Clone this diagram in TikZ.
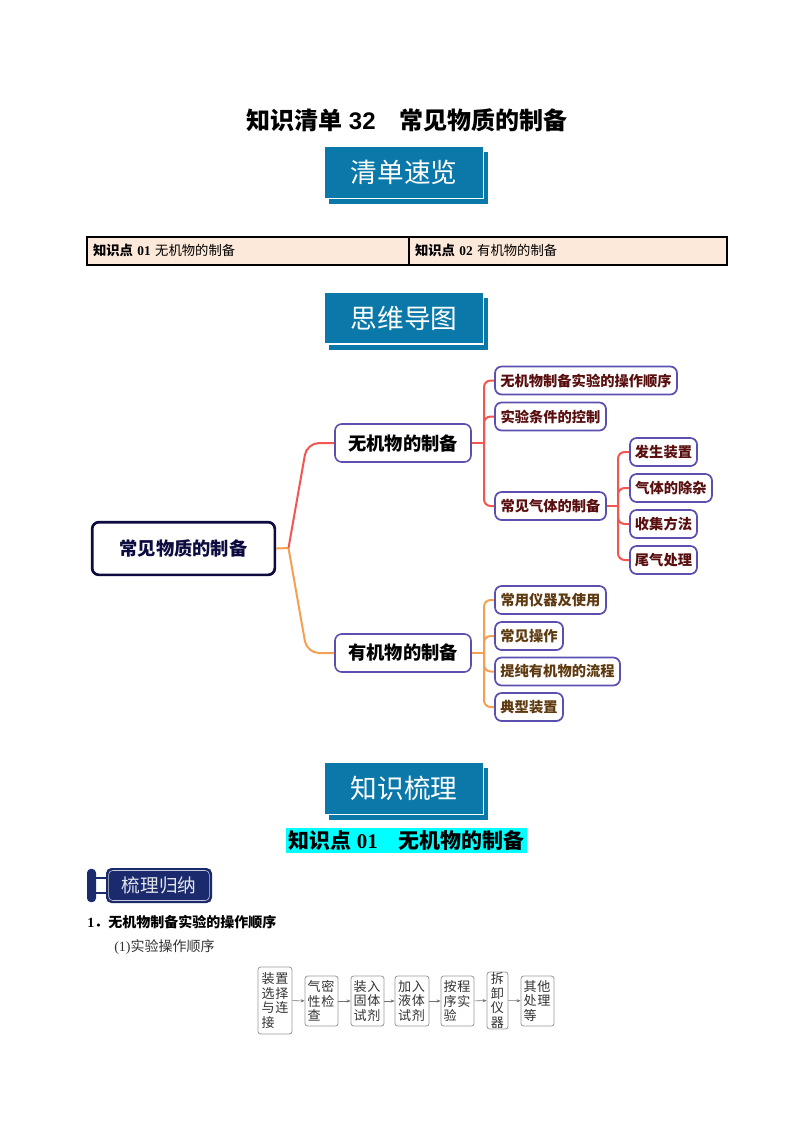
\documentclass[tikz,border=0pt]{standalone}
\usepackage{fontspec}
\setmainfont{Noto Sans CJK SC}
\newfontfamily\cjk{Noto Sans CJK SC}
\newfontfamily\lat{Liberation Serif}
\newfontfamily\lsans{Liberation Sans}
\usetikzlibrary{shadows,arrows.meta}
\definecolor{bann}{HTML}{0A78A8}
\definecolor{frameb}{HTML}{5B50B0}
\definecolor{rootb}{HTML}{0C0C40}
\definecolor{redl}{HTML}{F5554F}
\definecolor{orgl}{HTML}{F4A050}
\definecolor{redt}{HTML}{5A0F0F}
\definecolor{brnt}{HTML}{5E3A10}
\definecolor{peach}{HTML}{FDE9D9}
\definecolor{navy}{HTML}{1A2A6C}
\definecolor{graybox}{HTML}{9A9A9A}
\definecolor{hlcyan}{HTML}{00FFFF}
\tikzset{
 x=0.75pt,y=-0.75pt,
 banner/.style={fill=bann,draw=white,line width=0.8pt,text=white,minimum width=119pt,minimum height=39pt,inner sep=0pt,
   font=\fontsize{20}{24}\selectfont,
   drop shadow={shadow xshift=3.6pt,shadow yshift=-4.2pt,opacity=1,fill=bann}},
 cell/.style={draw=black,line width=1.4pt,fill=peach,minimum height=21pt,inner xsep=4.5pt,inner ysep=0pt,align=left,font=\fontsize{10}{12}\selectfont},
 rootbox/.style={draw=rootb,line width=2pt,rounded corners=5pt,minimum width=137pt,minimum height=39.5pt,inner sep=0pt,font=\fontsize{13.7}{16}\selectfont\bfseries,text=rootb},
 midbox/.style={draw=frameb,line width=1.2pt,rounded corners=5pt,fill=white,minimum width=102pt,minimum height=28.5pt,inner sep=0pt,font=\fontsize{13.7}{16}\selectfont\bfseries},
 leaf/.style={draw=frameb,line width=1.3pt,rounded corners=5pt,fill=white,minimum height=21pt,inner sep=0pt,font=\fontsize{10.7}{13}\selectfont\bfseries},
 leafr/.style={leaf,text=redt},
 leafo/.style={leaf,text=brnt},
 redc/.style={draw=redl,line width=1.5pt,rounded corners=5pt},
 orgc/.style={draw=orgl,line width=1.5pt,rounded corners=5pt},
 flowbox/.style={draw=graybox,line width=0.6pt,rounded corners=2pt,inner sep=0pt,align=left,font=\fontsize{9.8}{11}\selectfont\addfontfeature{LetterSpace=6},text=black!80},
 flowar/.style={draw=black!55,line width=0.4pt,-{Stealth[length=3pt,width=2.4pt]}},
}
\begin{document}
\begin{tikzpicture}
\useasboundingbox (0,0) rectangle (800,1132);
\fill[white] (0,0) rectangle (800,1132);
% title
\node[font=\fontsize{18}{22}\selectfont\bfseries] (title) at (407,120) {知识清单{\lsans\bfseries\ 32}　常见物质的制备};
% banners
\node[banner] (bn1) at (404,172.5) {清单速览};
\node[banner] (bn2) at (404,318) {思维导图};
\node[banner] (bn3) at (404,788.5) {知识梳理};
% table
\node[cell,minimum width=241.5pt,text width=232.5pt] (c1) at (248,251) {\raisebox{1.6pt}{\textbf{知识点}{\lat\bfseries\ 01} 无机物的制备}};
\node[cell,minimum width=238.5pt,text width=229.5pt] (c2) at (568,251) {\raisebox{1.6pt}{\textbf{知识点}{\lat\bfseries\ 02} 有机物的制备}};
% mind map nodes
\node[rootbox] (root) at (183.5,548.5) {常见物质的制备};
\node[midbox] (inorg) at (403,443) {无机物的制备};
\node[midbox] (org) at (403,653) {有机物的制备};
\node[leafr,minimum width=136.5pt] (a1) at (586,380.5) {无机物制备实验的操作顺序};
\node[leafr,minimum width=83.25pt] (a2) at (550.5,416.5) {实验条件的控制};
\node[leafr,minimum width=83.25pt] (a3) at (550.5,506) {常见气体的制备};
\node[leafr,minimum width=50.25pt] (g1) at (663.5,452) {发生装置};
\node[leafr,minimum width=61.5pt] (g2) at (671,488) {气体的除杂};
\node[leafr,minimum width=50.25pt] (g3) at (663.5,524) {收集方法};
\node[leafr,minimum width=50.25pt] (g4) at (663.5,560) {尾气处理};
\node[leafo,minimum width=83.25pt] (o1) at (550.5,600) {常用仪器及使用};
\node[leafo,minimum width=51pt] (o2) at (529,636) {常见操作};
\node[leafo,minimum width=93.75pt] (o3) at (557.5,671.5) {提纯有机物的流程};
\node[leafo,minimum width=51pt] (o4) at (529,707) {典型装置};
% junctions
\coordinate (j0) at (288.5,548);
\coordinate (k1) at (307,443);
\coordinate (k2) at (307,653);
\coordinate (j1) at (484,443);
\coordinate (j2) at (618,506);
\coordinate (j3) at (484,653);
% connectors
\begin{scope}[on background layer/.style={}]
\draw[orgc] (root.east) -- (j0);
\draw[redc,rounded corners=9pt] (j0) -- (k1) -- (inorg.west);
\draw[orgc,rounded corners=9pt] (j0) -- (k2) -- (org.west);
\draw[redc] (inorg.east) -- (j1);
\draw[redc] (j1) |- (a1.west);
\draw[redc] (j1) |- (a2.west);
\draw[redc] (j1) |- (a3.west);
\draw[redc] (a3.east) -- (j2);
\draw[redc] (j2) |- (g1.west);
\draw[redc] (j2) |- (g2.west);
\draw[redc] (j2) |- (g3.west);
\draw[redc] (j2) |- (g4.west);
\draw[orgc] (org.east) -- (j3);
\draw[orgc] (j3) |- (o1.west);
\draw[orgc] (j3) |- (o2.west);
\draw[orgc] (j3) |- (o3.west);
\draw[orgc] (j3) |- (o4.west);
\end{scope}
% heading
\node[fill=hlcyan,minimum width=180.75pt,minimum height=18.5pt,inner sep=0pt,font=\fontsize{15.7}{18}\selectfont\bfseries] (hd) at (406.5,840.5) {知识点{\lat\bfseries\ 01}　无机物的制备};
% badge
\node[fill=navy,rounded corners=3pt,minimum width=6.75pt,minimum height=25pt,inner sep=0pt] (hdl) at (91.5,885.5) {};
\node[fill=navy,rounded corners=4pt,minimum width=79.5pt,minimum height=26.25pt,inner sep=0pt] (tag) at (159,885.5) {};
\node[draw=white!75!navy,line width=0.4pt,rounded corners=3pt,minimum width=75.5pt,minimum height=22.5pt,inner sep=0pt,text=white!88!navy,font=\fontsize{14}{16}\selectfont] (tagt) at (159,885.5) {梳理归纳};
\draw[navy,line width=1.1pt] ([yshift=5.5pt]hdl.east) -- ([yshift=5.5pt]tag.west);
\draw[navy,line width=1.1pt] ([yshift=-5.5pt]hdl.east) -- ([yshift=-5.5pt]tag.west);
% text lines
\node[anchor=west,inner sep=0pt,font=\fontsize{10.5}{12}\selectfont\bfseries] (l1) at (87,922) {{\lat\bfseries 1}．无机物制备实验的操作顺序};
\node[anchor=west,inner sep=0pt,font=\fontsize{10.5}{12}\selectfont,text=black!80] (l2) at (114,947) {{\lat (1)}实验操作顺序};
% flow
\node[flowbox,minimum width=25.5pt,minimum height=50.25pt] (f1) at (275,1000.5) {装置\\选择\\与连\\接};
\node[flowbox,minimum width=24.75pt,minimum height=37.5pt,text width=21pt] (f2) at (321.5,1001) {气密\\性检\\查};
\node[flowbox,minimum width=24.75pt,minimum height=37.5pt,text width=21pt] (f3) at (367.5,1001) {装入\\固体\\试剂};
\node[flowbox,minimum width=25.5pt,minimum height=37.5pt,text width=21pt] (f4) at (412,1001) {加入\\液体\\试剂};
\node[flowbox,minimum width=24.75pt,minimum height=37.5pt,text width=21pt] (f5) at (457.5,1001) {按程\\序实\\验};
\node[flowbox,minimum width=15.75pt,minimum height=42.75pt] (f6) at (497.5,1000.5) {拆\\卸\\仪\\器};
\node[flowbox,minimum width=24.75pt,minimum height=37.5pt,text width=21pt] (f7) at (537.5,1001) {其他\\处理\\等};
\draw[flowar] (f1) -- (f2);
\draw[flowar] (f2) -- (f3);
\draw[flowar] (f3) -- (f4);
\draw[flowar] (f4) -- (f5);
\draw[flowar] (f5) -- (f6);
\draw[flowar] (f6) -- (f7);
\end{tikzpicture}
\end{document}
